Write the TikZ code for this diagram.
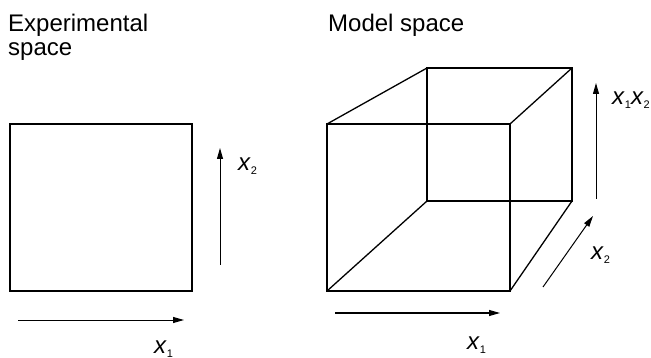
\documentclass[tikz,border=0pt]{standalone}
\usepackage{fontspec}
\setmainfont{Liberation Sans}
\usetikzlibrary{positioning, arrows.meta}

\newcommand{\xvar}[1]{\textit{x}\raisebox{-4pt}{\fontsize{11}{11}\selectfont #1}}

\begin{document}
\begin{tikzpicture}[x=1pt, y=-1pt,
    edge/.style={line width=1.3pt, line join=miter},
    axis/.style={-{Triangle[length=11pt, width=6pt]}, line width=1pt},
    title/.style={anchor=base west, inner sep=0, align=left,
    font=\fontsize{24}{24}\selectfont},
    lbl/.style={anchor=base west, inner sep=0, font=\fontsize{24}{24}\selectfont}
]
\useasboundingbox (0,0) rectangle (651,358);

\node[title] (exptitle) at (8,56) {Experimental\\space};
\node[title] (modtitle) at (328,32) {Model space};

% experimental square
\draw[edge] (10,124) rectangle (192,291);

\coordinate (ex2s) at (220,265);
\coordinate (ex2e) at (220,148);
\coordinate (ex1s) at (18,320);
\coordinate (ex1e) at (184,320);
\draw[axis] (ex2s) -- (ex2e);
\draw[axis] (ex1s) -- (ex1e);
\node[lbl] (ex2) at (238,171) {\xvar{2}};
\node[lbl] (ex1) at (154,353) {\xvar{1}};

% model cube
\coordinate (ftl) at (327,124);
\coordinate (ftr) at (510,124);
\coordinate (fbl) at (327,291);
\coordinate (fbr) at (510,291);
\coordinate (btl) at (427,68);
\coordinate (btr) at (572,68);
\coordinate (bbl) at (427,201);
\coordinate (bbr) at (572,201);

\draw[edge] (ftl) -- (ftr) -- (fbr) -- (fbl) -- cycle;
\draw[edge] (btl) -- (btr) -- (bbr) -- (bbl) -- cycle;
\draw[edge] (ftl) -- (btl);
\draw[edge] (ftr) -- (btr);
\draw[edge] (fbl) -- (bbl);
\draw[edge] (fbr) -- (bbr);

\coordinate (m12s) at (596,199);
\coordinate (m12e) at (596,83);
\coordinate (m2s) at (543,287);
\coordinate (m2e) at (593,216);
\coordinate (m1s) at (335,313);
\coordinate (m1e) at (500,313);
\draw[axis] (m12s) -- (m12e);
\draw[axis] (m2s) -- (m2e);
\draw[axis] (m1s) -- (m1e);
\node[lbl] (m12) at (612,105) {\xvar{1}\xvar{2}};
\node[lbl] (m2) at (591,260) {\xvar{2}};
\node[lbl] (m1) at (467,349) {\xvar{1}};

\end{tikzpicture}
\end{document}
